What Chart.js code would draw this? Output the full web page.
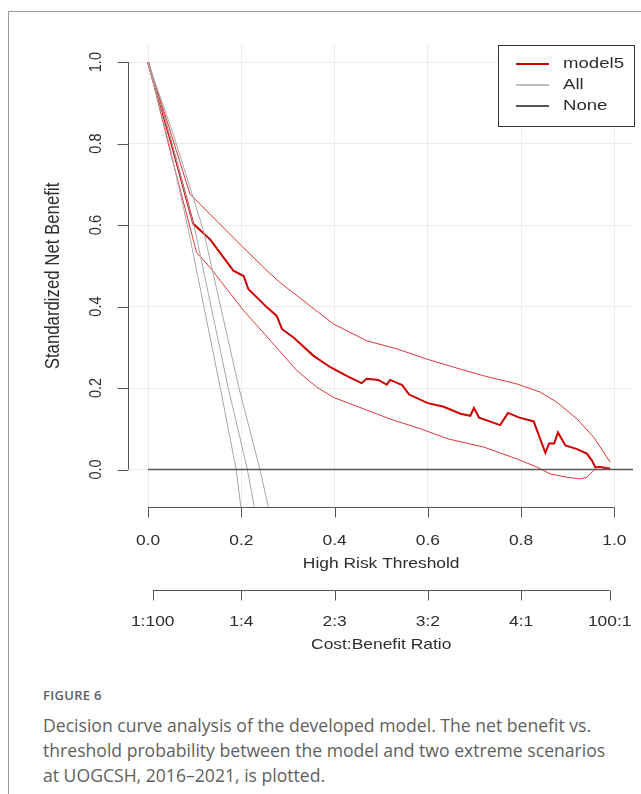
<!DOCTYPE html>
<html>
<head>
<meta charset="utf-8">
<script src="https://cdn.jsdelivr.net/npm/chart.js@4.4.0/dist/chart.umd.min.js"></script>
<style>
  html, body { margin: 0; padding: 0; background: #fff; }
  body { width: 641px; height: 794px; position: relative; overflow: hidden; }
  #frame { position: absolute; left: 8px; top: 11px; width: 660px; height: 800px; border: 1px solid #9a9a9a; box-sizing: border-box; }
  #chartBox { position: absolute; left: 0; top: 0; width: 641px; height: 660px; }
  #caption { position: absolute; left: 43px; top: 686px; width: 574px; font-family: "Open Sans", sans-serif; color: #5f5f5f; }
  #caption .fig { font-size: 13px; font-weight: 600; letter-spacing: 0.3px; color: #5e5e5e; margin-bottom: 9px; }
  #caption .txt { font-size: 17.6px; line-height: 25px; }
</style>
</head>
<body>
<div id="frame"></div>
<div id="chartBox"><canvas id="dca" width="641" height="660"></canvas></div>
<div id="caption">
  <div class="fig">FIGURE 6</div>
  <div class="txt">Decision curve analysis of the developed model. The net benefit vs. threshold probability between the model and two extreme scenarios at UOGCSH, 2016–2021, is plotted.</div>
</div>
<script>
const xTicks = [0, 0.2, 0.4, 0.6, 0.8, 1.0];
const xTickLabels = ['0.0', '0.2', '0.4', '0.6', '0.8', '1.0'];
const yTicks = [0, 0.2, 0.4, 0.6, 0.8, 1.0];
const yTickLabels = ['0.0', '0.2', '0.4', '0.6', '0.8', '1.0'];
const costTicks = [0.01, 0.2, 0.4, 0.6, 0.8, 0.99];
const costLabels = ['1:100', '1:4', '2:3', '3:2', '4:1', '100:1'];

const modelX = [0, 0.05, 0.097, 0.133, 0.183, 0.205, 0.215, 0.255, 0.276, 0.287, 0.312, 0.355, 0.391, 0.426, 0.458, 0.469, 0.494, 0.512, 0.519, 0.545, 0.56, 0.6, 0.634, 0.67, 0.691, 0.699, 0.71, 0.755, 0.772, 0.795, 0.827, 0.852, 0.86, 0.871, 0.879, 0.895, 0.92, 0.941, 0.952, 0.959, 0.97, 0.991];
const modelY = [1.0, 0.8, 0.603, 0.565, 0.488, 0.475, 0.443, 0.398, 0.377, 0.345, 0.324, 0.279, 0.251, 0.23, 0.212, 0.223, 0.22, 0.208, 0.22, 0.207, 0.184, 0.163, 0.154, 0.137, 0.132, 0.151, 0.127, 0.109, 0.139, 0.128, 0.118, 0.041, 0.064, 0.064, 0.091, 0.059, 0.05, 0.039, 0.022, 0.006, 0.006, 0.002];

const upperX = [0, 0.045, 0.09, 0.112, 0.19, 0.255, 0.283, 0.326, 0.348, 0.398, 0.469, 0.534, 0.598, 0.662, 0.72, 0.791, 0.841, 0.877, 0.92, 0.956, 0.991];
const upperY = [1.0, 0.84, 0.676, 0.651, 0.561, 0.488, 0.459, 0.421, 0.401, 0.357, 0.316, 0.296, 0.271, 0.249, 0.23, 0.21, 0.19, 0.165, 0.124, 0.079, 0.018];

const lowerX = [0, 0.05, 0.104, 0.133, 0.205, 0.269, 0.319, 0.362, 0.398, 0.462, 0.519, 0.584, 0.644, 0.72, 0.791, 0.834, 0.863, 0.898, 0.927, 0.941, 0.956, 0.963, 0.99];
const lowerY = [1.0, 0.77, 0.533, 0.496, 0.39, 0.308, 0.243, 0.202, 0.177, 0.149, 0.124, 0.1, 0.075, 0.055, 0.026, 0.006, -0.011, -0.019, -0.023, -0.019, -0.002, 0.006, 0.003];

const allLoX = [0, 0.045, 0.087, 0.155, 0.189, 0.199];
const allLoY = [1.0, 0.8, 0.586, 0.2, 0, -0.092];
const allX = [0, 0.05, 0.101, 0.172, 0.213, 0.228];
const allY = [1.0, 0.805, 0.586, 0.2, 0, -0.092];
const allHiX = [0, 0.055, 0.119, 0.195, 0.24, 0.258];
const allHiY = [1.0, 0.82, 0.586, 0.2, 0, -0.092];

const noneX = [0, 1.05];
const noneY = [0, 0];

const legendNames = ['model5', 'All', 'None'];

const RED = '#d10000';
const RED_CI = 'rgba(222, 20, 20, 0.85)';
const GRAY = '#a8a8a8';
const DARK = '#555555';
const TEXT = '#2e2e2e';
const AXIS = '#555555';

const pts = (xs, ys) => xs.map((x, i) => ({ x: x, y: ys[i] }));

const line = (label, xs, ys, color, width) => ({
  label: label,
  data: pts(xs, ys),
  borderColor: color,
  borderWidth: width,
  pointRadius: 0,
  fill: false,
  tension: 0
});

// the source figure is a bit stretched sideways, so text is too
const STRETCH = 1.2;
const FONT = '"Liberation Sans", Arial, sans-serif';

function label(ctx, str, x, y, size, rotated) {
  ctx.save();
  ctx.translate(x, y);
  ctx.scale(STRETCH, 1);
  if (rotated) ctx.rotate(-Math.PI / 2);
  ctx.font = size + 'px ' + FONT;
  ctx.fillText(str, 0, 0);
  ctx.restore();
}

// R-style axes, titles and legend
const rAxes = {
  id: 'rAxes',
  afterDraw(chart) {
    const ctx = chart.ctx;
    const xs = chart.scales.x;
    const ys = chart.scales.y;
    const area = chart.chartArea;
    ctx.save();
    ctx.strokeStyle = AXIS;
    ctx.lineWidth = 1;
    ctx.fillStyle = TEXT;
    ctx.textAlign = 'center';
    ctx.textBaseline = 'middle';

    // y axis
    const ax = Math.round(area.left) + 0.5;
    ctx.beginPath();
    ctx.moveTo(ax, ys.getPixelForValue(yTicks[0]));
    ctx.lineTo(ax, ys.getPixelForValue(yTicks[yTicks.length - 1]));
    yTicks.forEach(v => {
      const py = Math.round(ys.getPixelForValue(v)) + 0.5;
      ctx.moveTo(ax, py);
      ctx.lineTo(ax - 11, py);
    });
    ctx.stroke();
    yTicks.forEach((v, i) => label(ctx, yTickLabels[i], 96, ys.getPixelForValue(v), 14.5, true));
    label(ctx, 'Standardized Net Benefit', 53, (area.top + area.bottom) / 2, 16.8, true);

    // threshold axis
    const by = Math.round(area.bottom) + 0.5;
    ctx.beginPath();
    ctx.moveTo(xs.getPixelForValue(xTicks[0]), by);
    ctx.lineTo(xs.getPixelForValue(xTicks[xTicks.length - 1]), by);
    xTicks.forEach(v => {
      const px = Math.round(xs.getPixelForValue(v)) + 0.5;
      ctx.moveTo(px, by);
      ctx.lineTo(px, by + 10);
    });
    ctx.stroke();
    xTicks.forEach((v, i) => label(ctx, xTickLabels[i], xs.getPixelForValue(v), by + 33, 14.5, false));
    label(ctx, 'High Risk Threshold', xs.getPixelForValue(0.5), by + 56, 14.5, false);

    // cost:benefit axis
    const cy = by + 83;
    ctx.beginPath();
    ctx.moveTo(xs.getPixelForValue(costTicks[0]), cy);
    ctx.lineTo(xs.getPixelForValue(costTicks[costTicks.length - 1]), cy);
    costTicks.forEach(v => {
      const px = Math.round(xs.getPixelForValue(v)) + 0.5;
      ctx.moveTo(px, cy);
      ctx.lineTo(px, cy + 10);
    });
    ctx.stroke();
    costTicks.forEach((v, i) => label(ctx, costLabels[i], xs.getPixelForValue(v), cy + 31, 14.5, false));
    label(ctx, 'Cost:Benefit Ratio', xs.getPixelForValue(0.5), cy + 54, 14.5, false);

    // legend
    const lx = 498.5, ly = 45.5, lw = 136, lh = 81;
    ctx.fillStyle = '#fff';
    ctx.fillRect(lx, ly, lw, lh);
    ctx.strokeStyle = '#333';
    ctx.strokeRect(lx, ly, lw, lh);
    const legColors = [RED, GRAY, DARK];
    const legWidths = [2, 1.5, 2];
    ctx.textAlign = 'left';
    legendNames.forEach((name, i) => {
      const yy = 64 + i * 21;
      ctx.strokeStyle = legColors[i];
      ctx.lineWidth = legWidths[i];
      ctx.beginPath();
      ctx.moveTo(516, yy);
      ctx.lineTo(549, yy);
      ctx.stroke();
      ctx.fillStyle = TEXT;
      label(ctx, name, 563, yy, 15.5, false);
    });
    ctx.restore();
  }
};

new Chart(document.getElementById('dca'), {
  type: 'line',
  data: {
    datasets: [
      line('None', noneX, noneY, DARK, 1.6),
      line('All lower', allLoX, allLoY, GRAY, 1),
      line('All', allX, allY, GRAY, 1),
      line('All upper', allHiX, allHiY, GRAY, 1),
      line('model5 upper', upperX, upperY, RED_CI, 1),
      line('model5 lower', lowerX, lowerY, RED_CI, 1),
      line('model5', modelX, modelY, RED, 2)
    ]
  },
  options: {
    responsive: false,
    animation: false,
    layout: { padding: { left: 128, top: 45, right: 8, bottom: 153 } },
    plugins: {
      legend: { display: false },
      tooltip: { enabled: false }
    },
    scales: {
      x: {
        type: 'linear',
        min: -0.043,
        max: 1.04,
        afterBuildTicks: s => { s.ticks = xTicks.map(v => ({ value: v })); },
        ticks: { display: false },
        grid: { color: '#ececec', lineWidth: 1, drawTicks: false },
        border: { display: false }
      },
      y: {
        type: 'linear',
        min: -0.092,
        max: 1.042,
        afterBuildTicks: s => { s.ticks = yTicks.map(v => ({ value: v })); },
        ticks: { display: false },
        grid: { color: '#ececec', lineWidth: 1, drawTicks: false },
        border: { display: false }
      }
    }
  },
  plugins: [rAxes]
});
</script>
</body>
</html>
